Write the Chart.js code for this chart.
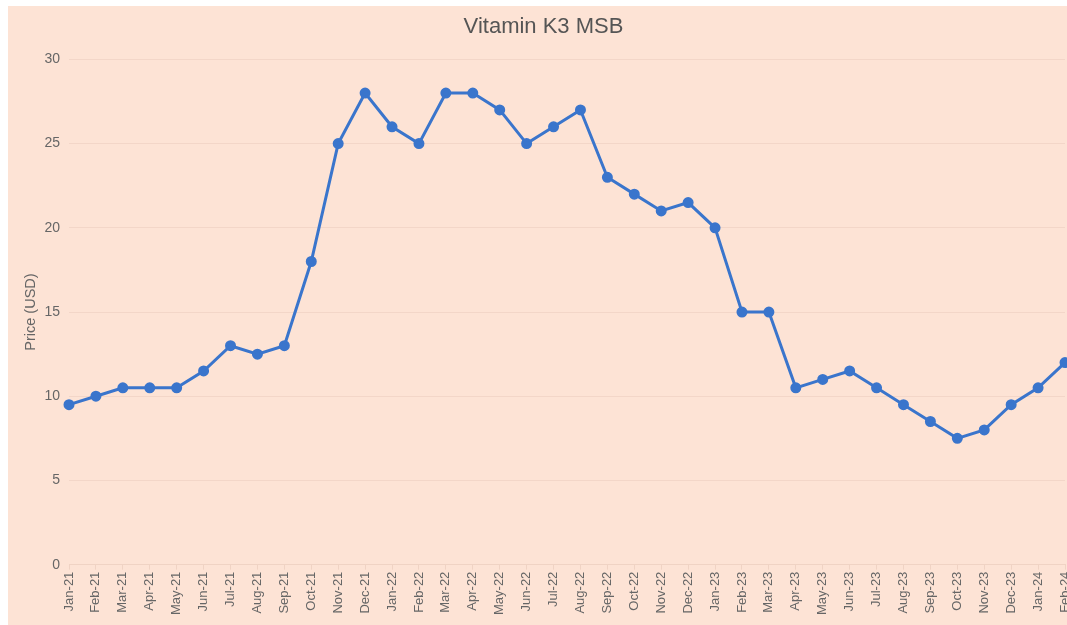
<!DOCTYPE html>
<html><head><meta charset="utf-8">
<script src="https://cdn.jsdelivr.net/npm/chart.js@4.4.1/dist/chart.umd.min.js"></script>
<style>
html,body{margin:0;padding:0;background:#fff;}
#wrap{position:absolute;left:8px;top:6px;width:1059px;height:619px;background:#fde3d5;}
</style></head><body>
<div id="wrap"><canvas id="c" width="1059" height="619"></canvas></div>
<script>
const categories = ["Jan-21","Feb-21","Mar-21","Apr-21","May-21","Jun-21","Jul-21","Aug-21","Sep-21","Oct-21","Nov-21","Dec-21",
"Jan-22","Feb-22","Mar-22","Apr-22","May-22","Jun-22","Jul-22","Aug-22","Sep-22","Oct-22","Nov-22","Dec-22",
"Jan-23","Feb-23","Mar-23","Apr-23","May-23","Jun-23","Jul-23","Aug-23","Sep-23","Oct-23","Nov-23","Dec-23",
"Jan-24","Feb-24"];
const prices = [9.5,10,10.5,10.5,10.5,11.5,13,12.5,13,18,25,28,
26,25,28,28,27,25,26,27,23,22,21,21.5,
20,15,15,10.5,11,11.5,10.5,9.5,8.5,7.5,8,9.5,
10.5,12];
const yTicks = [0,5,10,15,20,25,30];
const titleText = "Vitamin K3 MSB";
const yTitle = "Price (USD)";
const FONT = 'Liberation Sans, Arial, sans-serif';

new Chart(document.getElementById('c'), {
  type: 'line',
  data: { labels: categories, datasets: [{
    label: 'Price', data: prices,
    borderColor: '#3a75cc', backgroundColor: '#3a75cc',
    borderWidth: 3, pointRadius: 4, pointHoverRadius: 4, tension: 0
  }]},
  options: {
    responsive: false, animation: false,
    layout: { autoPadding: false, padding: { left: 14, right: 2, top: 0, bottom: 8 } },
    plugins: {
      legend: { display: false },
      tooltip: { enabled: false },
      title: { display: true, text: titleText, color: '#555', font: { family: FONT, size: 22, weight: 'normal' }, padding: { top: 8, bottom: 19 } }
    },
    scales: {
      x: {
        offset: false,
        afterFit: (s) => { s.paddingLeft = 0; s.paddingRight = 0; },
        grid: { display: true, drawOnChartArea: false, drawTicks: true, tickLength: 5, color: '#f0d3c4' },
        border: { display: true, color: '#f0d3c4' },
        ticks: { autoSkip: false, maxRotation: 90, minRotation: 90, color: '#666', padding: 2, font: { family: FONT, size: 13 } }
      },
      y: {
        min: 0, max: 30,
        afterBuildTicks: (s) => { s.ticks = yTicks.map(v => ({ value: v })); },
        afterFit: (s) => { s.width = 47; },
        grid: { color: '#f3d6c8', drawTicks: false },
        border: { display: false },
        ticks: { color: '#666', padding: 9, font: { family: FONT, size: 14 } },
        title: { display: true, text: yTitle, color: '#666', font: { family: FONT, size: 14.5 }, padding: { top: 0, bottom: 4 } }
      }
    }
  }
});
</script>
</body></html>
